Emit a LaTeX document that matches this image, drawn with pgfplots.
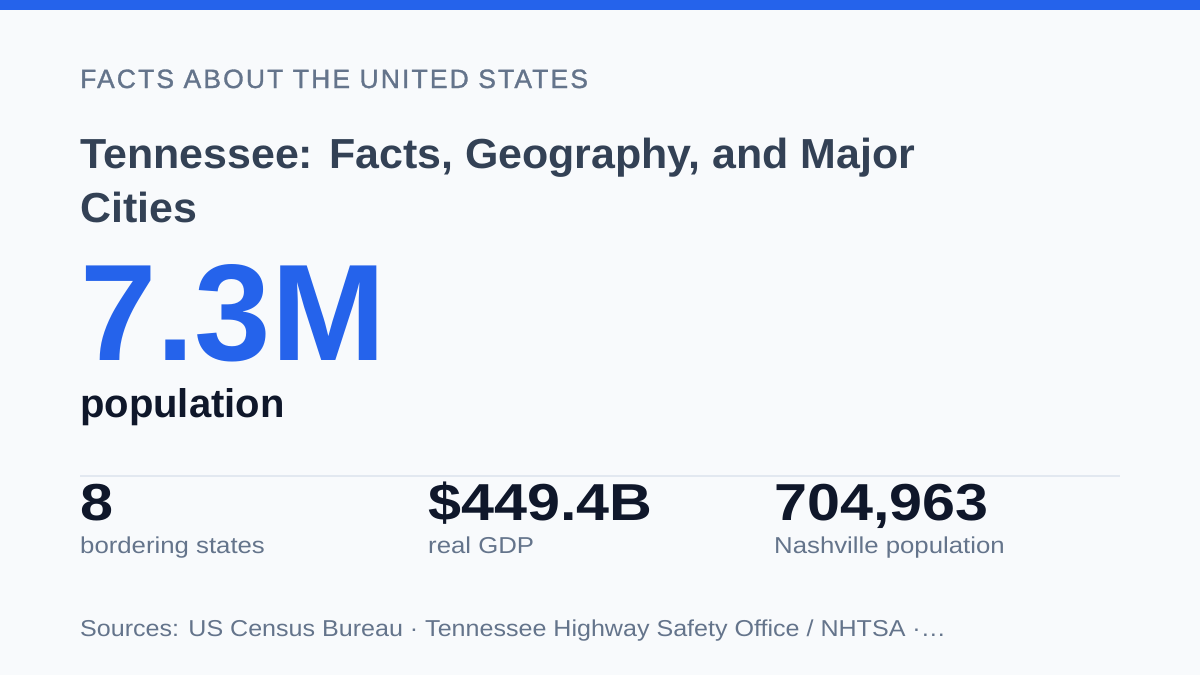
\documentclass[border=0pt]{standalone}
\usepackage{pgfplots}
\pgfplotsset{compat=1.18}
\usepackage{fontspec}
\setmainfont{Liberation Sans}
\newfontfamily\eyebrowfont[LetterSpace=8,FakeBold=1.2]{Liberation Sans}
\newfontfamily\titlefont[FakeStretch=1.022]{Liberation Sans}
\newfontfamily\statfont[FakeStretch=1.14]{Liberation Sans}
\newfontfamily\labelfont[FakeStretch=1.12]{Liberation Sans}
\newfontfamily\sourcefont[FakeStretch=1.09]{Liberation Sans}
\definecolor{bg}{HTML}{F8FAFC}
\definecolor{accent}{HTML}{2563EB}
\definecolor{titlec}{HTML}{334155}
\definecolor{ink}{HTML}{0F172A}
\definecolor{muted}{HTML}{64748B}
\definecolor{rule}{HTML}{E2E8F0}
\begin{document}
\begin{tikzpicture}
\begin{axis}[
  hide axis, scale only axis,
  width=1200pt, height=675pt,
  xmin=0, xmax=1200, ymin=0, ymax=675,
  y dir=reverse, clip=false,
]
\fill[bg] (axis cs:0,0) rectangle (axis cs:1200,675);
\fill[accent] (axis cs:0,0) rectangle (axis cs:1200,10);
\node[anchor=base west, inner sep=0pt, text=muted, font=\eyebrowfont\fontsize{26.5}{30}\selectfont] at (axis cs:80,88) {FACTS ABOUT THE UNITED STATES};
\node[anchor=base west, inner sep=0pt, text=titlec, font=\titlefont\bfseries\fontsize{42}{55}\selectfont] at (axis cs:80,168) {Tennessee: Facts, Geography, and Major};
\node[anchor=base west, inner sep=0pt, text=titlec, font=\titlefont\bfseries\fontsize{42}{55}\selectfont] at (axis cs:80,222) {Cities};
\node[anchor=base west, inner sep=0pt, text=accent, font=\bfseries\fontsize{137.5}{150}\selectfont] at (axis cs:80,360) {7.3M};
\node[anchor=base west, inner sep=0pt, text=ink, font=\bfseries\fontsize{40}{44}\selectfont] at (axis cs:80,417) {population};
\draw[rule, line width=2pt] (axis cs:80,476) -- (axis cs:1120,476);
\node[anchor=base west, inner sep=0pt, text=ink, font=\statfont\bfseries\fontsize{52}{56}\selectfont] at (axis cs:80,520) {8};
\node[anchor=base west, inner sep=0pt, text=ink, font=\statfont\bfseries\fontsize{52}{56}\selectfont] at (axis cs:428,520) {\$449.4B};
\node[anchor=base west, inner sep=0pt, text=ink, font=\statfont\bfseries\fontsize{52}{56}\selectfont] at (axis cs:774,520) {704,963};
\node[anchor=base west, inner sep=0pt, text=muted, font=\labelfont\fontsize{23}{26}\selectfont] at (axis cs:80,553) {bordering states};
\node[anchor=base west, inner sep=0pt, text=muted, font=\labelfont\fontsize{23}{26}\selectfont] at (axis cs:428,553) {real GDP};
\node[anchor=base west, inner sep=0pt, text=muted, font=\labelfont\fontsize{23}{26}\selectfont] at (axis cs:774,553) {Nashville population};
\node[anchor=base west, inner sep=0pt, text=muted, font=\sourcefont\fontsize{23}{26}\selectfont] at (axis cs:80,636) {Sources: US Census Bureau · Tennessee Highway Safety Office / NHTSA ·…};
\end{axis}
\end{tikzpicture}
\end{document}
